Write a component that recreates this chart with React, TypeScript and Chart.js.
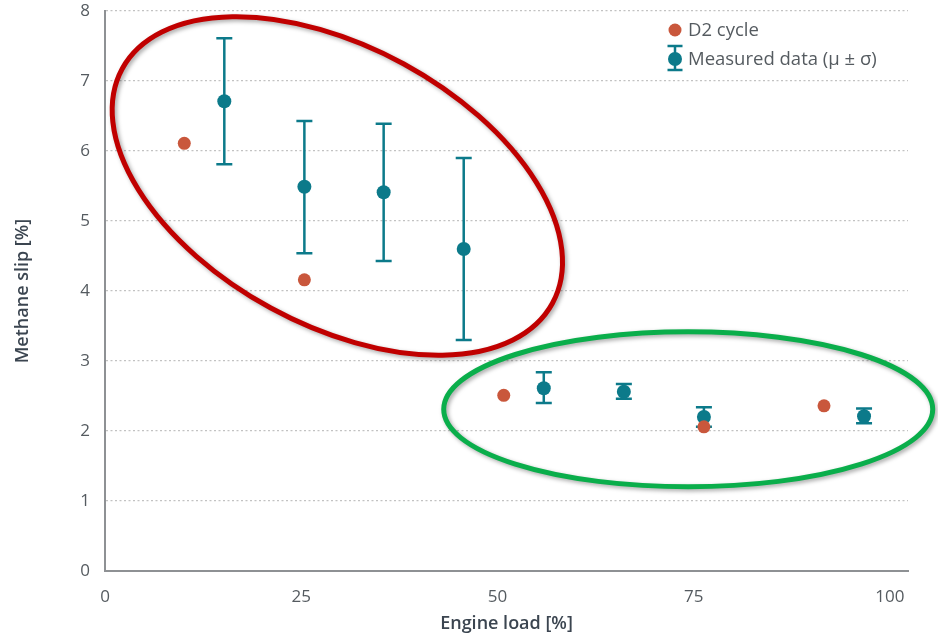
import { useEffect, useRef } from 'react';
import { Chart, registerables } from 'chart.js';

Chart.register(...registerables);

// ---- data ----
const loadD2 = [10.1, 25.4, 50.8, 76.3, 91.6];
const slipD2 = [6.11, 4.16, 2.51, 2.06, 2.36];

const loadMeasured = [15.2, 25.4, 35.5, 45.7, 55.9, 66.1, 76.3, 96.7];
const slipMean = [6.71, 5.49, 5.41, 4.6, 2.61, 2.56, 2.2, 2.21];
const slipLow = [5.81, 4.54, 4.43, 3.3, 2.4, 2.46, 2.06, 2.11];
const slipHigh = [7.61, 6.43, 6.39, 5.9, 2.84, 2.67, 2.34, 2.32];

const xTicks = [0, 25, 50, 75, 100];
const yTicks = [0, 1, 2, 3, 4, 5, 6, 7, 8];

const seriesNames = ['D2 cycle', 'Measured data (\u03bc \u00b1 \u03c3)'];

// highlight ellipses: centre in data units
const ellipseCentersX = [29.6, 74.3];
const ellipseCentersY = [5.5, 2.31];

// ---- styles ----
const ORANGE = '#c9573c';
const TEAL = '#0c7a8a';
const ELLIPSE_STYLES = [
  { color: '#c00000', rx: 245, ry: 139, angle: 28.6 },
  { color: '#0aae4b', rx: 244.5, ry: 77.5, angle: 0 },
];
const FONT = "'Open Sans', 'DejaVu Sans', sans-serif";
const TEXT = '#555b60';
const TITLE = '#3b4550';

const errorBarPlugin = {
  id: 'errorBars',
  beforeDatasetsDraw(chart: any) {
    const { ctx, scales } = chart;
    const xs = scales.x;
    const ys = scales.y;
    ctx.save();
    ctx.strokeStyle = TEAL;
    ctx.lineWidth = 2.5;
    loadMeasured.forEach((x, i) => {
      const px = xs.getPixelForValue(x);
      const pl = ys.getPixelForValue(slipLow[i]);
      const ph = ys.getPixelForValue(slipHigh[i]);
      ctx.beginPath();
      ctx.moveTo(px, pl);
      ctx.lineTo(px, ph);
      ctx.moveTo(px - 8, pl);
      ctx.lineTo(px + 8, pl);
      ctx.moveTo(px - 8, ph);
      ctx.lineTo(px + 8, ph);
      ctx.stroke();
    });
    ctx.restore();
  },
};

const ellipsePlugin = {
  id: 'ellipses',
  afterDraw(chart: any) {
    const { ctx, scales } = chart;
    ELLIPSE_STYLES.forEach((e, i) => {
      const cx = scales.x.getPixelForValue(ellipseCentersX[i]);
      const cy = scales.y.getPixelForValue(ellipseCentersY[i]);
      ctx.save();
      ctx.shadowColor = 'rgba(0,0,0,0.35)';
      ctx.shadowBlur = 4;
      ctx.shadowOffsetX = 2;
      ctx.shadowOffsetY = 2;
      ctx.strokeStyle = e.color;
      ctx.lineWidth = 5;
      ctx.beginPath();
      ctx.ellipse(cx, cy, e.rx, e.ry, (e.angle * Math.PI) / 180, 0, Math.PI * 2);
      ctx.stroke();
      ctx.restore();
    });
  },
};

const legendPlugin = {
  id: 'customLegend',
  afterDraw(chart: any) {
    const { ctx, chartArea } = chart;
    const ix = chartArea.right - 233;
    const y1 = chartArea.top + 19;
    const y2 = chartArea.top + 47;
    ctx.save();
    // D2 marker
    ctx.fillStyle = ORANGE;
    ctx.beginPath();
    ctx.arc(ix, y1, 6.5, 0, Math.PI * 2);
    ctx.fill();
    // errorbar marker
    ctx.strokeStyle = TEAL;
    ctx.lineWidth = 2.5;
    ctx.beginPath();
    ctx.moveTo(ix, y2 - 12);
    ctx.lineTo(ix, y2 + 12);
    ctx.moveTo(ix - 7.5, y2 - 12);
    ctx.lineTo(ix + 7.5, y2 - 12);
    ctx.moveTo(ix - 7.5, y2 + 12);
    ctx.lineTo(ix + 7.5, y2 + 12);
    ctx.stroke();
    ctx.fillStyle = TEAL;
    ctx.beginPath();
    ctx.arc(ix, y2 + 1, 7, 0, Math.PI * 2);
    ctx.fill();
    // text
    ctx.fillStyle = TEXT;
    ctx.font = `18.5px ${FONT}`;
    ctx.textBaseline = 'middle';
    ctx.textAlign = 'left';
    ctx.fillText(seriesNames[0], ix + 13, y1 + 1);
    ctx.fillText(seriesNames[1], ix + 13, y2 + 2);
    ctx.restore();
  },
};

export default function App() {
  const ref = useRef<HTMLCanvasElement | null>(null);

  useEffect(() => {
    if (!ref.current) return;
    const chart = new Chart(ref.current, {
      type: 'scatter',
      data: {
        datasets: [
          {
            label: seriesNames[0],
            data: loadD2.map((x, i) => ({ x, y: slipD2[i] })),
            backgroundColor: ORANGE,
            borderWidth: 0,
            pointRadius: 6.5,
          },
          {
            label: seriesNames[1],
            data: loadMeasured.map((x, i) => ({ x, y: slipMean[i] })),
            backgroundColor: TEAL,
            borderWidth: 0,
            pointRadius: 7,
          },
        ],
      },
      options: {
        responsive: false,
        animation: false,
        devicePixelRatio: 1,
        layout: { padding: { top: 0, right: 30, bottom: 0, left: 0 } },
        plugins: {
          legend: { display: false },
          tooltip: { enabled: false },
        },
        scales: {
          x: {
            type: 'linear',
            min: 0,
            max: 102.3,
            afterBuildTicks: (s: any) => {
              s.ticks = xTicks.map((v) => ({ value: v }));
            },
            afterFit: (s: any) => {
              s.height = 64;
              s.paddingLeft = 0;
              s.paddingRight = 0;
            },
            grid: { drawOnChartArea: false, drawTicks: false },
            border: { display: true, color: '#8e9194', width: 2 },
            ticks: {
              color: TEXT,
              font: { family: FONT, size: 17 },
              padding: 16,
              maxRotation: 0,
            },
            title: {
              display: true,
              text: 'Engine load [%]',
              color: TITLE,
              font: { family: FONT, size: 18, weight: '600' },
              padding: { top: 0, bottom: 0 },
            },
          },
          y: {
            type: 'linear',
            min: 0,
            max: 8,
            afterBuildTicks: (s: any) => {
              s.ticks = yTicks.map((v) => ({ value: v }));
            },
            afterFit: (s: any) => {
              s.width = 105;
              s.paddingTop = 11;
              s.paddingBottom = 0;
            },
            grid: { color: '#c2c2c2', lineWidth: 1.3, drawTicks: false },
            border: { display: true, color: '#8e9194', width: 2, dash: [2, 2.5] },
            ticks: {
              color: TEXT,
              font: { family: FONT, size: 17 },
              padding: 15,
            },
            title: {
              display: true,
              text: 'Methane slip [%]',
              color: TITLE,
              font: { family: FONT, size: 18, weight: '600' },
              padding: { top: 12, bottom: 0 },
            },
          },
        },
      },
      plugins: [errorBarPlugin, ellipsePlugin, legendPlugin],
    } as any);
    return () => chart.destroy();
  }, []);

  return (
    <div style={{ position: 'absolute', left: 0, top: 0, width: 938, height: 635, background: '#fff' }}>
      <canvas ref={ref} width={938} height={635} />
    </div>
  );
}
